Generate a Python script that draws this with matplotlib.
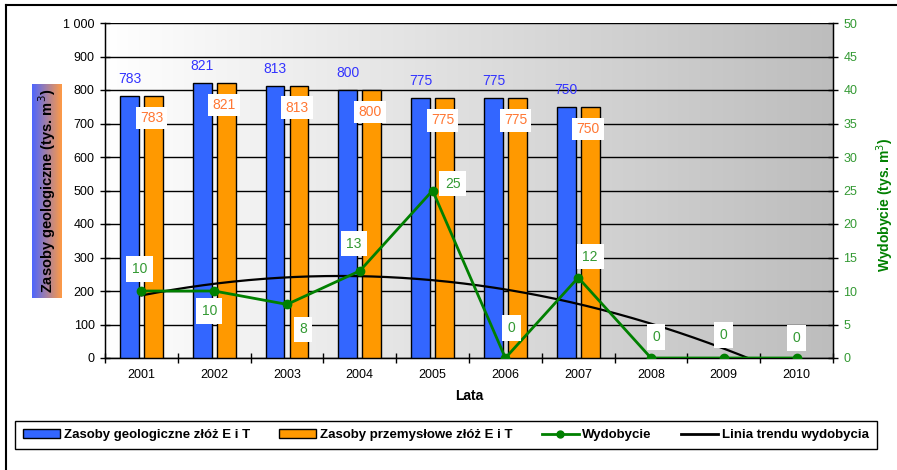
import numpy as np
import matplotlib
matplotlib.use("Agg")
import matplotlib.pyplot as plt
from matplotlib.patches import Patch
from matplotlib.lines import Line2D
from matplotlib.colors import LinearSegmentedColormap

plt.rcParams['font.family'] = ['Liberation Sans', 'DejaVu Sans']

# data
years = ['2001', '2002', '2003', '2004', '2005', '2006', '2007', '2008', '2009', '2010']
geologiczne = [783, 821, 813, 800, 775, 775, 750]
przemyslowe = [783, 821, 813, 800, 775, 775, 750]
wydobycie = [10, 10, 8, 13, 25, 0, 12, 0, 0, 0]
left_ticks = [0, 100, 200, 300, 400, 500, 600, 700, 800, 900, 1000]
left_labels = ['0', '100', '200', '300', '400', '500', '600', '700', '800', '900', '1 000']
right_ticks = [0, 5, 10, 15, 20, 25, 30, 35, 40, 45, 50]

blue = '#3366FF'
orange = '#FF9900'
green = '#008000'
green_txt = '#339933'
blue_txt = '#3333FF'
orange_txt = '#FF7733'

W, H = 897, 470
fig = plt.figure(figsize=(W / 100, H / 100), dpi=100)
ax = fig.add_axes([105 / W, 1 - 358 / H, (833 - 105) / W, (358 - 23) / H])

# gradient background
grad = np.linspace(0, 1, 256).reshape(1, -1)
bg = LinearSegmentedColormap.from_list('bg', ['#ffffff', '#bdbdbd'])
ax.imshow(grad, cmap=bg, aspect='auto', extent=(-0.5, 9.5, 0, 1000), zorder=0)

x = np.arange(len(years))
xb = np.arange(len(geologiczne))
bw = 0.26
off = 0.165
ax.bar(xb - off, geologiczne, bw, color=blue, edgecolor='black', linewidth=1, zorder=3)
ax.bar(xb + off, przemyslowe, bw, color=orange, edgecolor='black', linewidth=1, zorder=3)

for i, v in enumerate(geologiczne):
    ax.annotate(str(v), (xb[i] - off, v), xytext=(0, 17), textcoords='offset pixels',
                ha='center', va='center', color=blue_txt, fontsize=10, zorder=6)
for i, v in enumerate(przemyslowe):
    ax.annotate(str(v), (xb[i] + off, v), xytext=(-2, -22), textcoords='offset pixels',
                ha='center', va='center', color=orange_txt, fontsize=10, zorder=6,
                bbox=dict(boxstyle='square,pad=0.3', fc='white', ec='none'))

ax.set_xlim(-0.5, 9.5)
ax.set_ylim(0, 1000)
ax.set_yticks(left_ticks)
ax.set_yticklabels(left_labels)
ax.set_xticks(x)
ax.set_xticklabels(years)
ax.set_xticks(np.arange(-0.5, 10, 1), minor=True)
ax.tick_params(axis='x', which='major', length=0, pad=8, labelsize=9)
ax.tick_params(axis='x', which='minor', length=7, direction='inout', width=1)
ax.tick_params(axis='y', length=7, direction='inout', width=1, labelsize=9, pad=4)
ax.grid(axis='y', color='black', linewidth=1, zorder=1)
ax.set_axisbelow(True)
for s in ax.spines.values():
    s.set_linewidth(1)
ax.spines['top'].set_visible(False)
ax.set_xlabel('Lata', fontsize=10, fontweight='bold', labelpad=6)

# secondary axis
ax2 = ax.twinx()
ax2.set_ylim(0, 50)
ax2.set_yticks(right_ticks)
ax2.tick_params(axis='y', length=7, direction='inout', width=1, labelsize=9,
                labelcolor=green_txt, pad=4)
ax2.spines['top'].set_visible(False)

# trend line (2nd order polynomial, as in the spreadsheet)
coef = np.polyfit(x + 1, wydobycie, 2)
xt = np.linspace(0, 9, 300)
ax2.plot(xt, np.polyval(coef, xt + 1), color='black', linewidth=1.6, zorder=4)
ax2.plot(x, wydobycie, color=green, linewidth=2, marker='o', markersize=6, zorder=5)

offsets = [(-2, 22), (-5, -20), (16, -25), (-6, 27), (20, 7), (6, 30), (12, 21), (5, 21), (0, 23), (0, 20)]
for i, v in enumerate(wydobycie):
    ax2.annotate(str(v), (x[i], v), xytext=offsets[i], textcoords='offset pixels',
                 ha='center', va='center', color=green_txt, fontsize=10, zorder=7,
                 bbox=dict(boxstyle='square,pad=0.4', fc='white', ec='none'))

# axis titles
gax = fig.add_axes([32 / W, 1 - 298 / H, 30 / W, 214 / H])
gcm = LinearSegmentedColormap.from_list('lab', ['#4d66ff', '#ff9a45'])
gax.imshow(grad, cmap=gcm, aspect='auto')
gax.axis('off')
fig.text(47 / W, 1 - 191 / H, 'Zasoby geologiczne (tys. m$^3$)', rotation=90,
         ha='center', va='center', fontsize=10.5, fontweight='bold')
fig.text(885 / W, 1 - 205 / H, 'Wydobycie (tys. m$^3$)', rotation=90,
         ha='center', va='center', fontsize=10, fontweight='bold', color=green)

# legend
handles = [Patch(fc=blue, ec='black'), Patch(fc=orange, ec='black'),
           Line2D([], [], color=green, lw=2, marker='o', markersize=5),
           Line2D([], [], color='black', lw=2)]
labels = ['Zasoby geologiczne złóż E i T', 'Zasoby przemysłowe złóż E i T',
          'Wydobycie', 'Linia trendu wydobycia']
leg = fig.legend(handles, labels, loc='center', bbox_to_anchor=(446 / W, 1 - 435 / H),
                 ncol=4, frameon=True, fancybox=False, edgecolor='black', framealpha=1,
                 prop=dict(family=['Liberation Sans Narrow', 'Liberation Sans'], weight='bold', size=9.5),
                 handlelength=2.8, handletextpad=0.3, columnspacing=2.2, borderpad=0.6)
leg.get_frame().set_linewidth(1)

# outer frame
fig.add_artist(Line2D([6 / W, 1], [1 - 5 / H, 1 - 5 / H], color='black', lw=1.5))
fig.add_artist(Line2D([6 / W, 6 / W], [0, 1 - 5 / H], color='black', lw=1.5))

fig.savefig('out.png', dpi=100)
